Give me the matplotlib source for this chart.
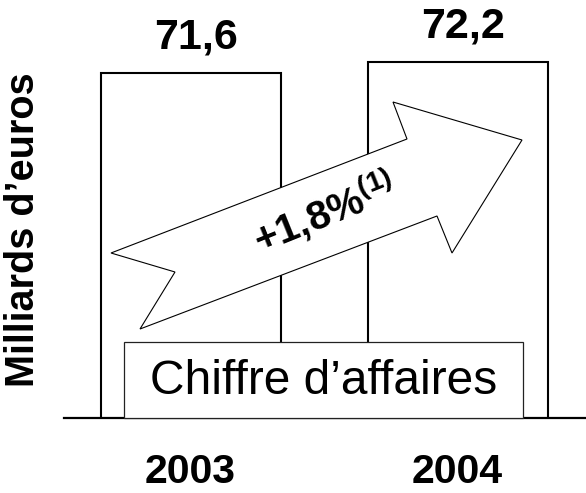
import matplotlib
matplotlib.use("Agg")
import matplotlib.pyplot as plt
from matplotlib.patches import Polygon, Rectangle

plt.rcParams['font.family'] = ['Liberation Sans', 'DejaVu Sans']
plt.rcParams['mathtext.fontset'] = 'custom'
plt.rcParams['mathtext.rm'] = 'Liberation Sans'
plt.rcParams['mathtext.bf'] = 'Liberation Sans:bold'

# ---- data ----
years = ["2003", "2004"]
revenue = [71.6, 72.2]          # milliards d'euros
growth_label = "+1,8%"
growth_note = "(1)"
box_label = "Chiffre d\u2019affaires"
y_label = "Milliards d\u2019euros"

W, H = 586, 493
fig = plt.figure(figsize=(W / 100, H / 100), dpi=100)

def fx(px):
    return px / W

def fy(py):
    return 1 - py / H

# axes: from x=64px to right edge, from top to baseline y=418px
ax = fig.add_axes([fx(64), fy(418), 1 - fx(64), 418 / H])
x = list(range(len(years)))
ax.bar(x, revenue, width=0.674, color="white", edgecolor="black", linewidth=1.5, zorder=2)
ax.set_xlim(-0.474, 1.481)
ax.set_ylim(52.78, 75.58)

for s in ["top", "right", "left"]:
    ax.spines[s].set_visible(False)
ax.spines["bottom"].set_linewidth(1.6)
ax.spines["bottom"].set_zorder(5)
ax.set_yticks([])
ax.set_xticks(x)
ax.set_xticklabels(years, fontsize=29.5, fontweight="bold")
ax.tick_params(axis="x", length=0, pad=25.5)
ax.patch.set_alpha(0)

for xi, v in zip(x, revenue):
    ax.annotate(f"{v:.1f}".replace(".", ","), xy=(xi, v), xytext=(4, 17.5),
                textcoords="offset points", ha="center", va="baseline",
                fontsize=31, fontweight="bold")

# y label
fig.text(fx(23), fy(230), y_label, rotation=90, ha="center", va="center",
         fontsize=28.5, fontweight="bold")

# "Chiffre d'affaires" box
box = Rectangle((fx(124), fy(418)), fx(523) - fx(124), fy(342) - fy(418),
                transform=fig.transFigure, facecolor="white", edgecolor="#222222",
                linewidth=0.9, zorder=6)
fig.add_artist(box)
fig.text(fx(323.5), fy(381), box_label, ha="center", va="center",
         fontsize=34.5, zorder=7)

# growth arrow (decoration, pixel positions)
arrow_px = [(111, 253), (407, 139), (393, 102), (522, 140), (452, 253),
            (437, 216), (140, 329), (175, 272)]
arrow = Polygon([(fx(a), fy(b)) for a, b in arrow_px], closed=True,
                transform=fig.transFigure, facecolor="white", edgecolor="black",
                linewidth=0.8, zorder=8)
fig.add_artist(arrow)
fig.text(fx(324), fy(212), growth_label + r"$^{\mathbf{" + growth_note + "}}$",
         rotation=22, rotation_mode="anchor", ha="center", va="center",
         fontsize=29, fontweight="bold", zorder=9)

fig.savefig("out.png", dpi=100)
